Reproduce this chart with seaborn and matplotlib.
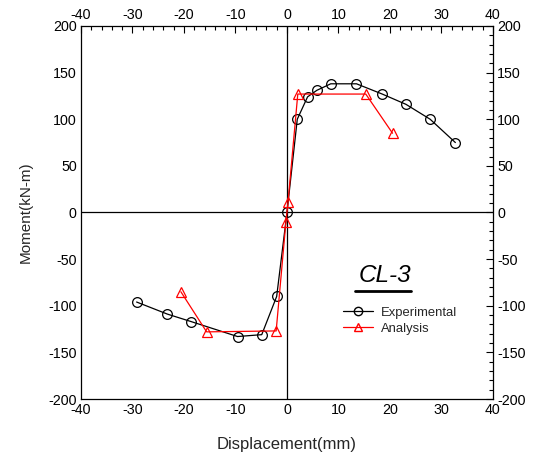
import matplotlib
matplotlib.use("Agg")
import matplotlib.pyplot as plt
from matplotlib.lines import Line2D
from matplotlib.ticker import MultipleLocator
import seaborn as sns
import pandas as pd

sns.set_theme(style="white")
plt.rcParams["font.family"] = ["Liberation Sans", "DejaVu Sans"]
plt.rcParams["axes.unicode_minus"] = False

# Experimental moment-displacement curve
exp_disp = [-29.2, -23.2, -18.6, -9.6, -4.9, -2.0, 0.0, 2.0, 4.0, 5.8, 8.5, 13.5, 18.5, 23.1, 27.8, 32.7]
exp_moment = [-96, -109, -117, -133, -131, -90, 0, 100, 124, 131, 138, 138, 127, 116, 100, 75]

# Analysis curve
ana_disp = [-20.6, -15.6, -2.1, -0.2, 0.2, 2.1, 15.3, 20.5]
ana_moment = [-85, -128, -127, -10, 11, 127, 127, 85]

x_ticks = [-40, -30, -20, -10, 0, 10, 20, 30, 40]
y_ticks = [-200, -150, -100, -50, 0, 50, 100, 150, 200]

exp_df = pd.DataFrame({"disp": exp_disp, "moment": exp_moment})
ana_df = pd.DataFrame({"disp": ana_disp, "moment": ana_moment})

fig = plt.figure(figsize=(5.37, 4.59), dpi=100)
ax = fig.add_axes([0.1508, 0.1307, 0.7672, 0.8127])

# reference axes through the origin
ax.axhline(0, color="black", lw=0.9, zorder=1)
ax.axvline(0, color="black", lw=0.9, zorder=1)

sns.lineplot(data=exp_df, x="disp", y="moment", sort=False, estimator=None,
             color="black", lw=0.9, marker="o", markersize=7,
             markerfacecolor="none", markeredgecolor="black", markeredgewidth=0.9,
             ax=ax, zorder=3)
sns.lineplot(data=ana_df, x="disp", y="moment", sort=False, estimator=None,
             color="red", lw=0.9, marker="^", markersize=7.5,
             markerfacecolor="none", markeredgecolor="red", markeredgewidth=0.9,
             ax=ax, zorder=4)

ax.set_xlim(-40, 40)
ax.set_ylim(-200, 200)
ax.set_xticks(x_ticks)
ax.set_yticks(y_ticks)
ax.xaxis.set_minor_locator(MultipleLocator(2))
ax.yaxis.set_minor_locator(MultipleLocator(10))
ax.tick_params(which="both", direction="in", top=True, right=True,
               labeltop=True, labelright=True, colors="black", labelsize=10.3, pad=3)
ax.tick_params(which="major", length=5, width=0.8)
ax.tick_params(which="minor", length=3, width=0.8)
for s in ax.spines.values():
    s.set_color("black")
    s.set_linewidth(0.9)

ax.set_xlabel("Displacement(mm)", fontsize=12, labelpad=14)
ax.set_ylabel("Moment(kN-m)", fontsize=11, labelpad=11)

# specimen label
ax.text(0.738, 0.330, "CL-3", transform=ax.transAxes, fontsize=17.5,
        style="italic", ha="center", va="center", color="black")
ax.add_line(Line2D([0.665, 0.802], [0.2895, 0.2895], transform=ax.transAxes,
                   color="black", lw=2))

handles = [
    Line2D([], [], color="black", lw=0.9, marker="o", markersize=6,
           markerfacecolor="none", markeredgecolor="black"),
    Line2D([], [], color="red", lw=0.9, marker="^", markersize=6,
           markerfacecolor="none", markeredgecolor="red"),
]
ax.legend(handles, ["Experimental", "Analysis"], loc="upper left",
          bbox_to_anchor=(0.623, 0.262), frameon=False, fontsize=9.4,
          handlelength=2.3, handletextpad=0.6, labelspacing=0.32,
          borderaxespad=0)

fig.savefig("out.png", dpi=100)
